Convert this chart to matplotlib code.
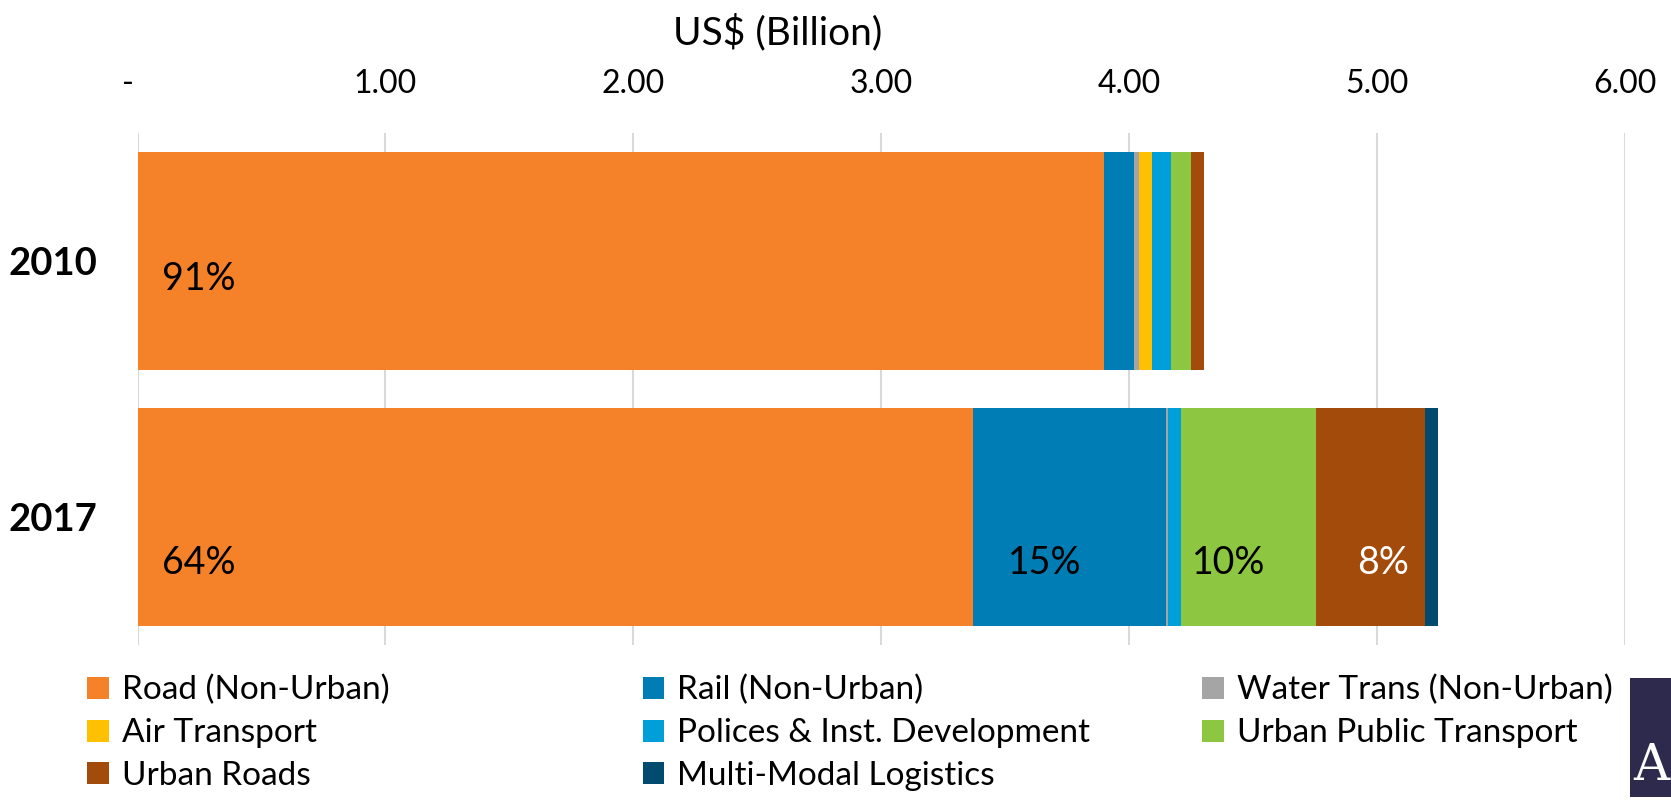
import matplotlib
matplotlib.use("Agg")
from matplotlib import pyplot as plt
from matplotlib.patches import Patch, Rectangle
from matplotlib.transforms import ScaledTranslation
import numpy as np

plt.rcParams['font.family'] = ['Lato', 'DejaVu Sans']

years = ['2010', '2017']
categories = ['Road (Non-Urban)', 'Rail (Non-Urban)', 'Water Trans (Non-Urban)',
              'Air Transport', 'Polices & Inst. Development', 'Urban Public Transport',
              'Urban Roads', 'Multi-Modal Logistics']
colors = ['#F58129', '#007DB5', '#A5A5A5', '#FFC000', '#009FD9', '#8DC641',
          '#A34B0A', '#004B6E']

# US$ billion per category, [2010, 2017]
road = [3.90, 3.37]
rail = [0.12, 0.78]
water = [0.02, 0.005]
air = [0.05, 0.0]
policies = [0.08, 0.055]
urban_public = [0.08, 0.545]
urban_roads = [0.05, 0.44]
multimodal = [0.0, 0.05]
series = [road, rail, water, air, policies, urban_public, urban_roads, multimodal]

# share labels: (year index, category index, text, colour)
share_labels = [(0, 0, '91%', 'black'), (1, 0, '64%', 'black'), (1, 1, '15%', 'black'),
                (1, 5, '10%', 'black'), (1, 6, '8%', 'white')]
label_dx = {(0, 0): 0.10, (1, 0): 0.10, (1, 1): 0.29, (1, 5): 0.19, (1, 6): 0.27}
label_ha = {(0, 0): 'left', (1, 0): 'left'}

fig = plt.figure(figsize=(16.71, 8), dpi=100)
ax = fig.add_axes([0.0823, 0.194, 0.8902, 0.64])

y = np.arange(len(years))
left = np.zeros(len(years))
lefts = []
for vals, col in zip(series, colors):
    ax.barh(y, vals, left=left, height=0.85, color=col, edgecolor='none', zorder=2)
    lefts.append(left.copy())
    left = left + np.array(vals)

for yi, ci, txt, tc in share_labels:
    ha = label_ha.get((yi, ci), 'center')
    ax.text(lefts[ci][yi] + label_dx[(yi, ci)], yi + (0.07 if yi == 0 else 0.18), txt,
            ha=ha, va='center', fontsize=27, color=tc, zorder=3)

ax.set_xlim(0, 6)
ax.set_ylim(1.5, -0.5)
ax.set_yticks(y)
ax.set_yticklabels(years, fontsize=27.5, fontweight='bold')
ax.set_xticks(np.arange(0, 7))
ax.set_xticklabels(['-'] + ['%.2f' % v for v in range(1, 7)], fontsize=23)
ax.xaxis.tick_top()
ax.tick_params(axis='x', length=0, pad=24)
ax.tick_params(axis='y', length=0, pad=29)
dash = ax.get_xticklabels()[0]
dash.set_transform(dash.get_transform() + ScaledTranslation(-10 / 100, 0, fig.dpi_scale_trans))
ax.grid(axis='x', color='#D9D9D9', linewidth=1.5, zorder=0)
for s in ax.spines.values():
    s.set_visible(False)

fig.text(0.4655, 0.96, 'US$ (Billion)', fontsize=28, ha='center', va='center')

# legend, row-major like the original, three columns
col_x = [0.0523, 0.3846, 0.7195]
for c in range(3):
    idx = list(range(c, len(categories), 3))
    handles = [Patch(facecolor=colors[i], edgecolor='none') for i in idx]
    fig.legend(handles, [categories[i] for i in idx], loc='upper left',
               bbox_to_anchor=(col_x[c], 0.156), frameon=False, fontsize=24,
               handlelength=0.64, handleheight=0.64, handletextpad=0.4,
               labelspacing=0.38, borderaxespad=0, borderpad=0)

# logo corner
fig.patches.append(Rectangle((0.9755, 0.004), 0.03, 0.1485, transform=fig.transFigure,
                             facecolor='#2E2A4D', edgecolor='none'))
fig.text(0.9775, 0.025, 'A', color='white', fontsize=36, family='DejaVu Serif',
         va='baseline')

fig.savefig('out.png', dpi=100)
